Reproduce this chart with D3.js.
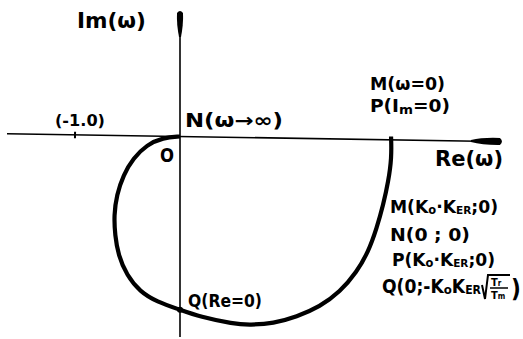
<!DOCTYPE html>
<html>
<head>
<meta charset="utf-8">
<script src="https://cdn.jsdelivr.net/npm/d3@7/dist/d3.min.js"></script>
<style>
  html, body { margin: 0; padding: 0; background: #fff; }
  svg { display: block; }
  text { font-family: "DejaVu Sans Condensed", "DejaVu Sans", sans-serif; font-weight: bold; fill: #000; }
</style>
</head>
<body>
<svg id="chart" width="523" height="339"></svg>
<script>
// Nyquist locus of the loop: from M (ω = 0) on the real axis, through Q on the
// imaginary axis, back to the origin N as ω → ∞.
const locusRe = [2.01, 2.016, 1.984, 1.936, 1.873, 1.793, 1.683, 1.524, 1.333, 1.111, 0.889, 0.667, 0.508, 0.19, 0.0, -0.222, -0.381, -0.508, -0.588, -0.619, -0.629, -0.603, -0.54, -0.445, -0.317, -0.162, 0.0];
const locusIm = [0.0, -0.2, -0.43, -0.65, -0.875, -1.1, -1.29, -1.48, -1.62, -1.717, -1.78, -1.795, -1.785, -1.717, -1.65, -1.573, -1.478, -1.32, -1.13, -0.94, -0.75, -0.557, -0.367, -0.207, -0.08, -0.01, 0.0];

// Marked points on the plane
const pointNames = ["N", "M", "Q", "(-1.0)"];
const pointRe = [0, 2.01, 0, -1];
const pointIm = [0, 0, -1.65, 0];

// Axis extents (real and imaginary units)
const reAxisRange = [-1.648, 3.076];
const imAxisRange = [1.205, -1.91];

const svg = d3.select("#chart");
const x = d3.scaleLinear().domain([-1, 0]).range([75, 180]);
const y = d3.scaleLinear().domain([0, -1]).range([136.5, 241.5]);

// Real axis (hand-drawn, slightly tilted) with a long, filled arrow tip
const reAxis = svg.append("g")
  .attr("transform", `rotate(0.9, ${x(0)}, ${y(0)})`);
const xe = x(reAxisRange[1]);
reAxis.append("line")
  .attr("x1", x(reAxisRange[0])).attr("x2", xe - 25)
  .attr("y1", y(0)).attr("y2", y(0))
  .attr("stroke", "#000").attr("stroke-width", 1.6);
reAxis.append("path")
  .attr("d", `M${xe - 32},${y(0) - 1} Q${xe - 20},${y(0) - 4} ${xe - 3},${y(0) - 3.5} Q${xe + 1},${y(0)} ${xe - 3},${y(0) + 3.5} Q${xe - 20},${y(0) + 4} ${xe - 32},${y(0) + 1} Z`)
  .attr("fill", "#000");
// Tick at (-1, 0)
reAxis.append("line")
  .attr("x1", x(pointRe[3])).attr("x2", x(pointRe[3]))
  .attr("y1", y(0) - 3).attr("y2", y(0) + 3.5)
  .attr("stroke", "#000").attr("stroke-width", 2);

// Imaginary axis with its arrow tip
const yt = y(imAxisRange[0]);
svg.append("line")
  .attr("x1", x(0)).attr("x2", x(0))
  .attr("y1", yt + 20).attr("y2", y(imAxisRange[1]))
  .attr("stroke", "#000").attr("stroke-width", 1.6);
svg.append("path")
  .attr("d", `M${x(0) - 1},${yt + 27} Q${x(0) - 3.5},${yt + 14} ${x(0) - 3},${yt + 3} Q${x(0)},${yt - 1} ${x(0) + 3},${yt + 3} Q${x(0) + 3.5},${yt + 14} ${x(0) + 1},${yt + 27} Z`)
  .attr("fill", "#000");

// The locus itself, smoothed through the sampled points
const locus = locusRe.map((r, i) => [r, locusIm[i]]);
svg.append("path")
  .datum(locus)
  .attr("d", d3.line().x(d => x(d[0])).y(d => y(d[1])).curve(d3.curveBasis))
  .attr("fill", "none").attr("stroke", "#000").attr("stroke-width", 4.2)
  .attr("stroke-linejoin", "round");

// Crossing point Q on the imaginary axis
svg.append("circle")
  .attr("cx", x(pointRe[2])).attr("cy", y(pointIm[2])).attr("r", 3)
  .attr("fill", "#000");

// ---- Labels ----
function label(xp, yp, size, parts, len) {
  const t = svg.append("text").attr("x", xp).attr("y", yp).attr("font-size", size);
  parts.forEach(p => {
    if (typeof p === "string") {
      t.append("tspan").text(p);
    } else {
      t.append("tspan").attr("font-size", p.s).attr("dy", p.dy || 0).text(p.t);
    }
  });
  if (len) t.attr("textLength", len).attr("lengthAdjust", "spacingAndGlyphs");
  return t;
}

label(77, 28, 22, ["Im(ω)"], 69);
label(55, 126, 16, [pointNames[3]], 50);
label(185, 127, 19, ["N(ω→∞)"], 98);
label(160, 162, 19, ["O"], 14);
label(370, 90, 18, ["M(ω=0)"], 75);
label(370, 112, 18, ["P(I", {t: "m", s: 13, dy: 2}, {t: "=0)", s: 18, dy: -2}], 80);
label(435, 166, 21, ["Re(ω)"], 68);

label(390, 213, 18, ["M(K", {t: "o", s: 12, dy: 1}, {t: "·K", s: 18, dy: -1}, {t: "ER", s: 11, dy: 1}, {t: ";0)", s: 18, dy: -1}], 108);
label(390, 241, 18, ["N(0 ; 0)"], 80);
label(392, 266, 18, ["P(K", {t: "o", s: 12, dy: 1}, {t: "·K", s: 18, dy: -1}, {t: "ER", s: 11, dy: 1}, {t: ";0)", s: 18, dy: -1}], 103);
label(382, 293, 19, ["Q(0;-K", {t: "o", s: 13, dy: 1}, {t: "K", s: 19, dy: -1}, {t: "ER", s: 12, dy: 1}], 99);

// Radical with the fraction Tr / Tm
const rx = 482, ry = 293;
svg.append("path")
  .attr("d", `M${rx},${ry - 8} L${rx + 3},${ry + 6} L${rx + 6},${ry - 18} L${rx + 28},${ry - 18}`)
  .attr("fill", "none").attr("stroke", "#000").attr("stroke-width", 2);
svg.append("line")
  .attr("x1", rx + 8).attr("x2", rx + 26).attr("y1", ry - 5).attr("y2", ry - 5)
  .attr("stroke", "#000").attr("stroke-width", 1.5);
label(rx + 9, ry - 7, 11, ["T", {t: "r", s: 8}]);
label(rx + 9, ry + 6, 11, ["T", {t: "m", s: 8}]);
svg.append("text").attr("x", rx + 29).attr("y", ry + 4).attr("font-size", 24).text(")");

label(188, 307, 17, ["Q(Re=0)"], 74);
</script>
</body>
</html>
